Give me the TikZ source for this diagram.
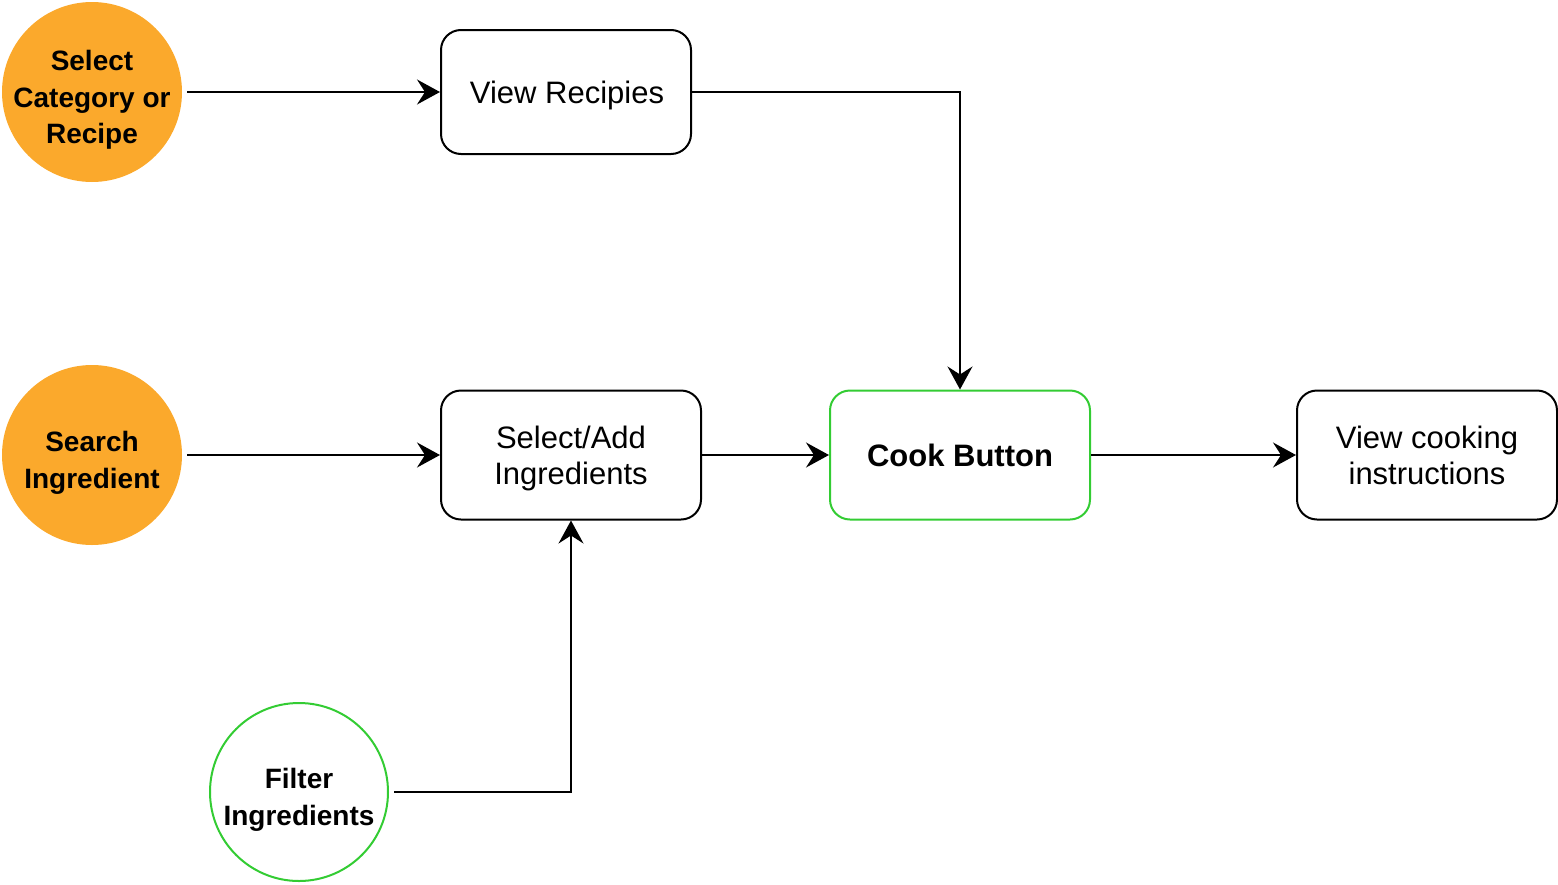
\documentclass[tikz,border=0pt]{standalone}
\usepackage{fontspec}
\setmainfont{Liberation Sans}
\usetikzlibrary{arrows.meta}
\definecolor{orangefill}{HTML}{FBA92C}
\definecolor{greenline}{HTML}{33CC33}
\begin{document}
\begin{tikzpicture}[x=0.5pt,y=-0.5pt,
  every node/.style={font=\fontsize{15.5pt}{18pt}\selectfont, align=center},
  startcirc/.style={circle, fill=orangefill, draw=none, minimum size=90pt, inner sep=0pt},
  greencirc/.style={circle, draw=greenline, line width=1pt, fill=white, minimum size=89pt, inner sep=0pt},
  circtext/.style={inner sep=0pt, font=\fontsize{14pt}{18.2pt}\selectfont\bfseries},
  procbox/.style={rectangle, rounded corners=10pt, draw=black, line width=1pt, fill=white,
     minimum width=130pt, minimum height=64.5pt, inner sep=0pt},
  cookbox/.style={procbox, draw=greenline, font=\fontsize{15.5pt}{18pt}\selectfont\bfseries},
  conn/.style={draw=black, line width=1pt, -{Stealth[length=11.5pt,width=12.5pt,inset=4pt]}},
]
\useasboundingbox (0,0) rectangle (1558,884);

\node[startcirc] (sel) at (92,92) {};
\node[circtext] (seltext) at (92,100) {Select\\Category or\\Recipe};
\node[startcirc] (search) at (92,455) {};
\node[circtext] (searchtext) at (92,463) {Search\\Ingredient};
\node[greencirc] (filter) at (299,792) {};
\node[circtext] (filtertext) at (299,800) {Filter\\Ingredients};

\node[procbox, minimum width=125pt, minimum height=62pt] (recipes) at (566,92) {};
\node (recipestext) at (567,95) {View Recipies};
\node[procbox] (addingr) at (571,455) {};
\node (addingrtext) at (571,458) {Select/Add\\Ingredients};
\node[cookbox] (cook) at (960,455) {Cook Button};
\node[procbox] (instr) at (1427,455) {View cooking\\instructions};

\draw[conn, shorten <=2.5pt] (sel) -- (recipes);
\draw[conn] (recipes.east) -| (cook.north);
\draw[conn, shorten <=2.5pt] (search) -- (addingr);
\draw[conn] (addingr) -- (cook);
\draw[conn] (cook) -- (instr);
\draw[conn, shorten <=2.5pt] (filter.east) -| (addingr.south);
\end{tikzpicture}
\end{document}
